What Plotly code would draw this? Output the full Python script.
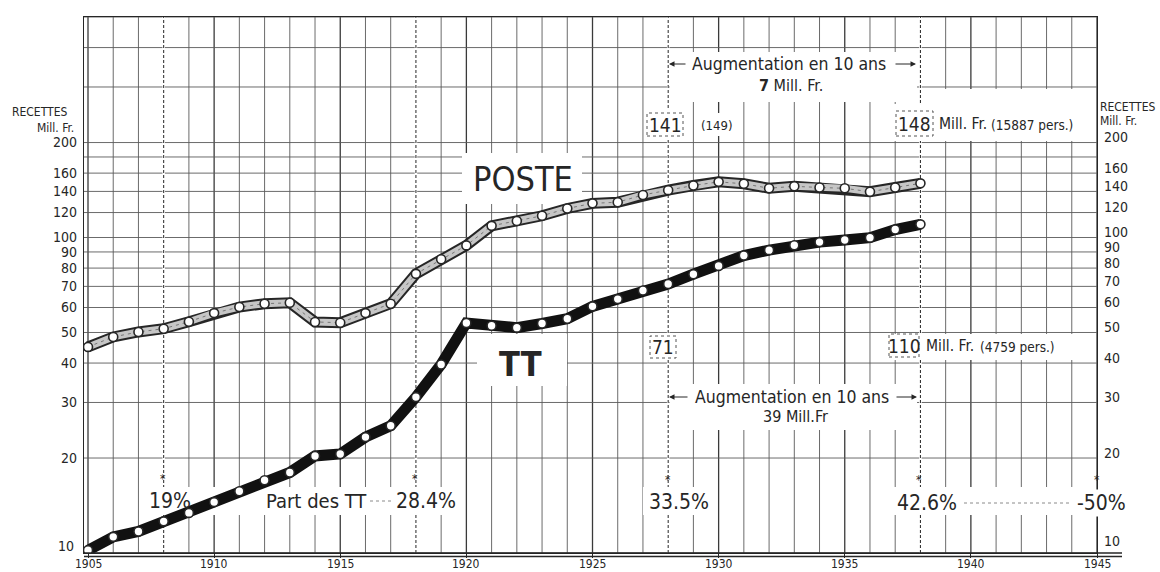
import math
import plotly.graph_objects as go

# ---------------- data ----------------
years = list(range(1905, 1939))
poste = [45.0, 48.4, 50.2, 51.4, 54.1, 57.6, 60.2, 61.7, 62.1, 54.0,
         53.7, 57.6, 61.7, 76.7, 85.3, 94.4, 108.9, 112.8, 117.2, 123.6,
         128.3, 129.4, 136.4, 141.3, 146.2, 150.1, 148.0, 143.3, 145.3, 144.1,
         143.2, 139.7, 144.0, 148.5]
tt = [10.2, 11.25, 11.7, 12.6, 13.4, 14.5, 15.7, 17.0, 18.0, 20.3,
      20.6, 23.3, 25.3, 31.2, 39.6, 53.6, 52.5, 51.8, 53.4, 55.3,
      60.5, 63.8, 67.9, 71.2, 76.5, 81.3, 87.7, 91.2, 94.5, 96.7,
      98.2, 99.9, 106.0, 110.1]

y_tick_vals = [10, 20, 30, 40, 50, 60, 70, 80, 90, 100, 120, 140, 160, 180, 200, 300, 400, 500]
y_tick_text = ["", "20", "30", "40", "50", "60", "70", "80", "90", "100", "120", "140", "160", "", "200", "", "", ""]
x_tick_vals = [1905, 1910, 1915, 1920, 1925, 1930, 1935, 1940, 1945]
x_tick_text = ["1905", "1910", "1915", "1920", "1925", "1930", "1935", "1940", "1945"]
grid_years = list(range(1905, 1946))
decade_marks = [1908, 1918, 1928, 1938]
share_labels = ["19%", "28.4%", "33.5%", "42.6%", "-50%"]

# ---------------- geometry helpers ----------------
W, H = 1160, 572
L, R, T, B = 84, 1097, 17, 553
PPY = (1097 - 88) / 40.0
XMIN = 1905 - (88 - L) / PPY
XMAX = 1945
YLOG = [1.0, math.log10(500)]


def xp(px):
    return (px - L) / (R - L)


def yp(py):
    return (B - py) / (B - T)


def yv(v):
    return (math.log10(v) - YLOG[0]) / (YLOG[1] - YLOG[0])


INK = "#262626"
GRID = "#5a5a5a"
FONT = "DejaVu Sans Condensed, DejaVu Sans, sans-serif"
BIG = "Liberation Sans Narrow, DejaVu Sans Condensed, sans-serif"

fig = go.Figure()

# POSTE band (grey with dark edges)
fig.add_trace(go.Scatter(x=years, y=poste, mode="lines",
                         line=dict(color=INK, width=11), hoverinfo="skip", showlegend=False))
fig.add_trace(go.Scatter(x=years, y=poste, mode="lines",
                         line=dict(color="#c6c6c6", width=7), hoverinfo="skip", showlegend=False))
fig.add_trace(go.Scatter(x=years, y=poste, mode="lines",
                         line=dict(color="#777777", width=1, dash="3px,4px"), hoverinfo="skip", showlegend=False))
# TT band (black)
fig.add_trace(go.Scatter(x=years, y=tt, mode="lines",
                         line=dict(color="#111111", width=11), hoverinfo="skip", showlegend=False))
# circles
for series in (poste, tt):
    fig.add_trace(go.Scatter(x=years, y=series, mode="markers",
                             marker=dict(size=9, color="white", line=dict(color=INK, width=1.6)),
                             hoverinfo="skip", showlegend=False))
# invisible trace for right axis
fig.add_trace(go.Scatter(x=[years[0]], y=[poste[0]], yaxis="y2", mode="markers",
                         marker=dict(opacity=0), hoverinfo="skip", showlegend=False))

shapes = []

# grid (drawn as shapes so that white masks can cover it)
for yr in grid_years:
    shapes.append(dict(type="line", layer="below", xref="x", yref="paper",
                       x0=yr, x1=yr, y0=0, y1=1,
                       line=dict(color="#3a3a3a" if yr % 5 == 0 else GRID,
                                 width=1.3 if yr % 5 == 0 else 0.9)))
for v in y_tick_vals:
    shapes.append(dict(type="line", layer="below", xref="paper", yref="paper",
                       x0=0, x1=1, y0=yv(v), y1=yv(v), line=dict(color=GRID, width=0.9)))

# dashed decade lines
for yr in decade_marks:
    shapes.append(dict(type="line", layer="below", xref="x", yref="paper",
                       x0=yr, x1=yr, y0=0, y1=1, line=dict(color="white", width=2.5)))
    shapes.append(dict(type="line", layer="below", xref="x", yref="paper",
                       x0=yr, x1=yr, y0=0, y1=1, line=dict(color=INK, width=1, dash="3px,2px")))

# white masks behind texts
masks = [
    (670, 52, 917, 102),
    (645, 110, 686, 138),
    (694, 113, 740, 136),
    (921, 89, 1096, 141),
    (893, 104, 921, 141),
    (462, 153, 582, 204),
    (477, 334, 567, 386),
    (648, 334, 678, 360),
    (887, 334, 1096, 360),
    (670, 384, 917, 430),
    (147, 487, 462, 515),
    (643, 487, 714, 515),
    (893, 487, 1096, 515),
]
for x0, y0, x1, y1 in masks:
    shapes.append(dict(type="rect", layer="below", xref="paper", yref="paper",
                       x0=xp(x0), x1=xp(x1), y0=yp(y1), y1=yp(y0),
                       line=dict(width=0), fillcolor="white"))

# dotted boxes around key numbers
for x0, y0, x1, y1 in [(647, 113, 683, 136), (896, 111, 933, 136),
                       (650, 336, 676, 358), (889, 334, 919, 357)]:
    shapes.append(dict(type="rect", layer="below", xref="paper", yref="paper",
                       x0=xp(x0), x1=xp(x1), y0=yp(y1), y1=yp(y0),
                       line=dict(color="#555555", width=1, dash="dot"), fillcolor="rgba(0,0,0,0)"))

# dotted leader lines in the share row
for x0, x1, yy in [(370, 394, 501), (964, 1071, 503)]:
    shapes.append(dict(type="line", layer="below", xref="paper", yref="paper",
                       x0=xp(x0), x1=xp(x1), y0=yp(yy), y1=yp(yy),
                       line=dict(color="#8a8a8a", width=1, dash="dot")))

# bottom double base line
for yy in (553, 556.5):
    shapes.append(dict(type="line", layer="above", xref="paper", yref="paper",
                       x0=xp(84), x1=xp(1122), y0=yp(yy), y1=yp(yy),
                       line=dict(color=INK, width=1.3)))

ann = []


def text(px, py, s, size, anchor="center", family=FONT, bg=None, color=INK):
    d = dict(xref="paper", yref="paper", x=xp(px), y=yp(py), text=s, showarrow=False,
             xanchor=anchor, yanchor="middle", font=dict(family=family, size=size, color=color))
    if bg:
        d["bgcolor"] = bg
    ann.append(d)


def arrow(px, py, dx):
    ann.append(dict(xref="paper", yref="paper", x=xp(px), y=yp(py), ax=dx, ay=0, text="",
                    showarrow=True, arrowhead=2, arrowsize=1.1, arrowwidth=1, arrowcolor=INK))


# x tick labels (placed just under the base line)
for v, s in zip(x_tick_vals, x_tick_text):
    ann.append(dict(xref="x", yref="paper", x=v, y=yp(564), text=s, showarrow=False,
                    xanchor="center", yanchor="middle", font=dict(family=FONT, size=12, color=INK)))

text(523, 179, "POSTE", 34, family=BIG)
text(520, 364, "<b>TT</b>", 34, family=BIG)

text(789, 64, "Augmentation en 10 ans", 17.5)
text(791, 86, "<b>7</b> Mill. Fr.", 16)
arrow(669, 64, 18)
arrow(916, 64, -22)

text(792, 397, "Augmentation en 10 ans", 17.5)
text(795, 417, "39 Mill.Fr", 16)
arrow(669, 397, 20)
arrow(917, 397, -22)

text(665, 125, "141", 19)
text(716, 125, "(149)", 13)
text(914, 124, "148", 19)
text(937, 124, "Mill. Fr.", 15.5, anchor="left")
text(989, 125, "(15887 pers.)", 13.5, anchor="left")

text(663, 347, "71", 19)
text(904, 346, "110", 19)
text(924, 346, "Mill. Fr.", 15.5, anchor="left")
text(978, 347, "(4759 pers.)", 13.5, anchor="left")

text(170, 501, share_labels[0], 21)
text(316, 501, "Part des TT", 20)
text(426, 501, share_labels[1], 21)
text(679, 502, share_labels[2], 21)
text(927, 503, share_labels[3], 21)
text(1101, 503, share_labels[4], 21, bg="white")
for px, py in [(163, 479), (415, 479), (668, 480), (919, 480), (1097, 480)]:
    text(px, py, "*", 12)

text(39, 112, "RECETTES", 12)
text(76, 128, "Mill. Fr.", 12, anchor="right")
text(1098, 107, "RECETTES", 12, anchor="left")
text(1098, 121, "Mill. Fr.", 12, anchor="left")
text(76, 546, "10", 14, anchor="right")
text(1102, 541, "10", 14, anchor="left")

fig.update_layout(
    width=W, height=H,
    margin=dict(l=L, r=W - R, t=T, b=H - B, pad=0, autoexpand=False),
    paper_bgcolor="white", plot_bgcolor="white",
    showlegend=False,
    shapes=shapes, annotations=ann,
    xaxis=dict(range=[XMIN, XMAX], tickvals=x_tick_vals, showticklabels=False,
               showgrid=False, automargin=False,
               ticks="outside", ticklen=4, tickcolor=INK, tickwidth=1,
               showline=True, linecolor=INK, linewidth=1.3, mirror=True,
               zeroline=False),
    yaxis=dict(type="log", range=YLOG, tickvals=y_tick_vals, ticktext=y_tick_text,
               showgrid=False, automargin=False,
               ticks="outside", ticklen=3, tickcolor="white",
               showline=True, linecolor=INK, linewidth=1.3, mirror=True,
               zeroline=False, tickfont=dict(family=FONT, size=14, color=INK)),
    yaxis2=dict(type="log", range=YLOG, tickvals=y_tick_vals, ticktext=y_tick_text,
                overlaying="y", side="right", showgrid=False, automargin=False,
                ticks="outside", ticklen=3, tickcolor="white", ticklabelshift=-5,
                showline=True, linecolor=INK, linewidth=1.3,
                zeroline=False, tickfont=dict(family=FONT, size=14, color=INK)),
)

fig.write_html("out.html", config={"displayModeBar": False},
               post_script="document.body.style.margin='0';")
